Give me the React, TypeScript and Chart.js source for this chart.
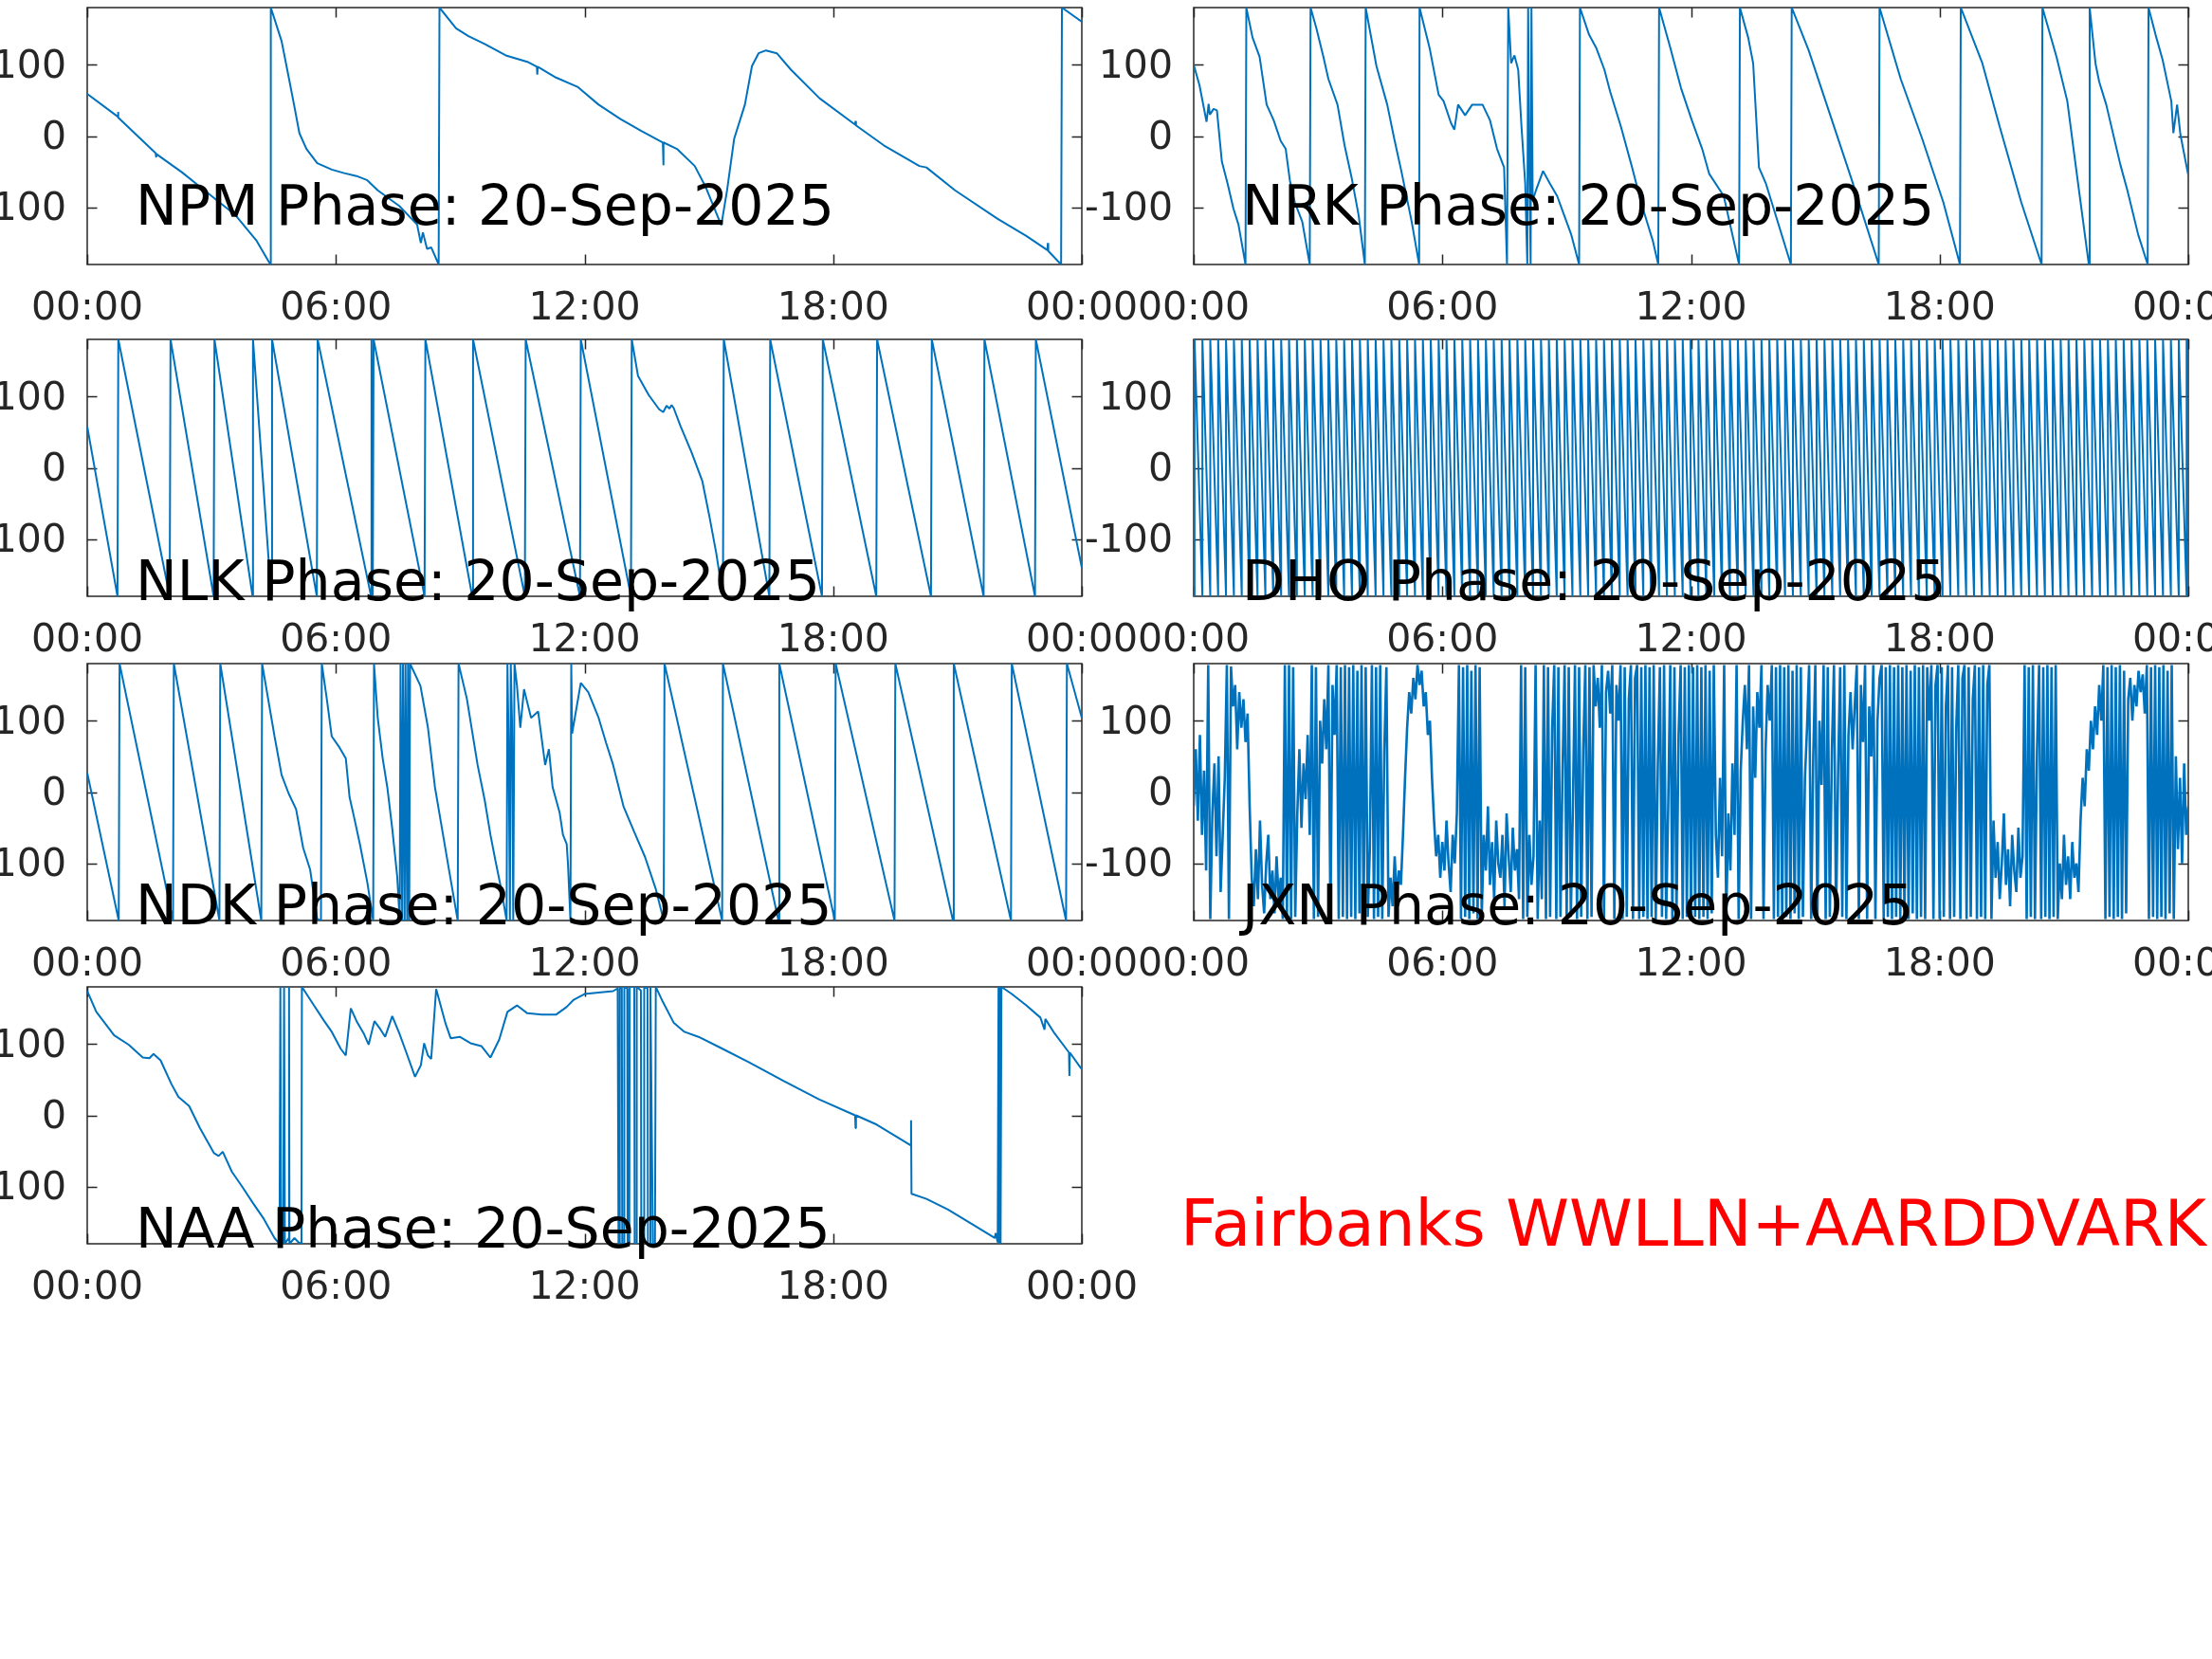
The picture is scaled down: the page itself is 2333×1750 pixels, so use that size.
import React, { useEffect, useRef } from "react";
import { Chart, registerables } from "chart.js";

Chart.register(...registerables);

// ---------- tick definitions ----------
const X_TICKS = [0, 6, 12, 18, 24];
const X_TICK_LABELS = ["00:00", "06:00", "12:00", "18:00", "00:00"];
const Y_TICKS = [-100, 0, 100];
const Y_TICK_LABELS = ["-100", "0", "100"];

// ---------- data: [hour, phase(deg)] ----------
const NPM: number[][] = [
  [0, 59], [0.74, 27], [0.745, 34], [0.75, 26], [1.65, -24], [1.66, -30], [1.67, -25], [2.29, -51], [2.72, -71],
  [3.58, -111], [4.09, -147], [4.42, -180], [4.43, 180], [4.69, 133], [4.87, 80], [4.99, 44], [5.12, 4],
  [5.29, -18], [5.55, -38], [5.9, -47], [6.2, -52], [6.5, -56], [6.76, -62], [7.01, -76], [7.53, -98], [7.96, -124],
  [8.05, -150], [8.1, -135], [8.2, -158], [8.3, -156], [8.48, -180], [8.5, 180], [8.9, 151], [9.2, 140],
  [9.59, 129], [10.1, 113], [10.62, 104], [10.85, 97], [10.86, 86], [10.87, 97], [11.31, 82], [11.83, 69],
  [12.34, 44], [12.86, 24], [13.37, 7], [13.89, -9], [13.9, -41], [13.91, -9], [14.23, -18], [14.66, -42],
  [14.92, -71], [15.3, -125], [15.44, -76], [15.61, -4], [15.87, 44], [16.04, 98], [16.2, 116], [16.38, 120],
  [16.64, 116], [16.98, 93], [17.67, 53], [18.53, 16], [18.54, 21], [18.55, 15], [19.22, -13], [20.08, -42],
  [20.25, -44], [20.94, -76], [21.97, -116], [22.66, -140], [23.17, -160], [23.18, -150], [23.19, -161],
  [23.5, -180], [23.52, 180], [24, 160],
];

const NRK: number[][] = [
  [0, 100], [0.14, 71], [0.31, 20], [0.36, 45], [0.39, 30], [0.48, 38], [0.56, 36], [0.68, -36], [0.82, -67],
  [0.96, -102], [1.08, -124], [1.25, -180], [1.27, 180], [1.42, 138], [1.59, 111], [1.76, 44], [1.93, 22],
  [2.1, -7], [2.22, -18], [2.32, -62], [2.44, -93], [2.62, -120], [2.8, -180], [2.82, 180], [2.96, 151],
  [3.13, 111], [3.25, 80], [3.47, 44], [3.64, -13], [3.81, -58], [3.98, -111], [4.13, -180], [4.15, 180],
  [4.41, 98], [4.67, 44], [4.84, -4], [5.01, -49], [5.26, -120], [5.44, -180], [5.45, 180], [5.69, 124],
  [5.91, 58], [6.03, 49], [6.21, 18], [6.29, 9], [6.38, 44], [6.55, 29], [6.72, 44], [6.97, 44], [7.15, 22],
  [7.32, -18], [7.49, -44], [7.56, -180], [7.59, 180], [7.66, 102], [7.74, 113], [7.83, 93], [7.91, 13],
  [8.0, -67], [8.05, -180], [8.07, 180], [8.1, -40], [8.13, -180], [8.15, 180], [8.18, -90], [8.26, -76],
  [8.43, -49], [8.6, -67], [8.77, -84], [8.94, -111], [9.11, -138], [9.3, -180], [9.32, 180], [9.54, 142],
  [9.71, 124], [9.91, 93], [10.05, 62], [10.31, 13], [10.56, -40], [10.82, -98], [11.08, -147], [11.21, -180],
  [11.23, 180], [11.5, 124], [11.76, 67], [12.02, 22], [12.27, -18], [12.44, -53], [12.79, -84], [13.16, -180],
  [13.18, 180], [13.38, 138], [13.5, 102], [13.64, -44], [13.81, -67], [14.07, -116], [14.41, -180],
  [14.43, 180], [14.84, 120], [15.35, 31], [15.86, -58], [16.53, -180], [16.55, 180], [17.06, 80],
  [17.58, -4], [18.09, -93], [18.49, -180], [18.51, 180], [19.03, 102], [19.45, 13], [19.97, -93],
  [20.46, -180], [20.48, 180], [20.82, 111], [21.08, 49], [21.33, -62], [21.6, -180], [21.62, 180],
  [21.76, 102], [21.85, 76], [22.02, 44], [22.36, -40], [22.53, -76], [22.79, -138], [23.02, -180],
  [23.04, 180], [23.21, 142], [23.38, 107], [23.59, 49], [23.64, 4], [23.73, 44], [23.81, 2], [24, -55],
];

const NLK: number[][] = [
  [0, 58], [0.73, -180], [0.75, 180], [1.99, -180], [2.01, 180], [3.05, -180], [3.07, 180], [3.99, -180],
  [4.0, 180], [4.44, -180], [4.46, 180], [5.54, -180], [5.56, 180], [6.85, -180], [6.86, 180], [6.89, -180],
  [6.91, 180], [8.14, -180], [8.16, 180], [9.29, -180], [9.31, 180], [10.56, -180], [10.58, 180],
  [11.89, -180], [11.91, 180], [13.12, -180], [13.14, 180], [13.29, 129], [13.55, 102], [13.8, 82],
  [13.9, 78], [13.98, 87], [14.05, 83], [14.1, 88], [14.15, 84], [14.32, 58], [14.58, 22], [14.84, -18],
  [15.01, -67], [15.18, -120], [15.34, -180], [15.36, 180], [16.46, -180], [16.48, 180], [17.73, -180],
  [17.75, 180], [19.04, -180], [19.06, 180], [20.36, -180], [20.38, 180], [21.63, -180], [21.65, 180],
  [22.87, -180], [22.89, 180], [24, -140],
];

// DHO: times (hours) at which the fast phase wraps from -180 back to +180
const DHO_WRAPS = [
  0.02, 0.21, 0.40, 0.59, 0.78, 0.97, 1.16, 1.35, 1.54, 1.73, 1.92, 2.11, 2.30, 2.49, 2.68, 2.87, 3.06,
  3.25, 3.44, 3.63, 3.82, 4.01, 4.20, 4.39, 4.58, 4.77, 4.96, 5.15, 5.34, 5.53, 5.72, 5.91, 6.10, 6.29,
  6.48, 6.67, 6.86, 7.05, 7.24, 7.43, 7.62, 7.81, 8.00, 8.19, 8.38, 8.57, 8.76, 8.95, 9.14, 9.33, 9.52,
  9.71, 9.90, 10.09, 10.28, 10.47, 10.66, 10.85, 11.04, 11.23, 11.42, 11.61, 11.80, 11.99, 12.18, 12.37,
  12.56, 12.75, 12.94, 13.13, 13.32, 13.51, 13.70, 13.89, 14.08, 14.27, 14.46, 14.65, 14.84, 15.03, 15.22,
  15.41, 15.60, 15.79, 15.98, 16.17, 16.36, 16.55, 16.74, 16.93, 17.12, 17.31, 17.50, 17.69, 17.88, 18.07,
  18.26, 18.45, 18.64, 18.83, 19.02, 19.21, 19.40, 19.59, 19.78, 19.97, 20.16, 20.35, 20.54, 20.73, 20.92,
  21.11, 21.30, 21.49, 21.68, 21.87, 22.06, 22.25, 22.44, 22.63, 22.82, 23.01, 23.20, 23.39, 23.58, 23.77,
  23.96,
];
const DHO_START = -142;
const DHO_END = 104;

const NDK: number[][] = [
  [0, 27], [0.76, -180], [0.78, 180], [2.07, -180], [2.09, 180], [3.19, -180], [3.21, 180], [4.2, -180],
  [4.22, 180], [4.52, 78], [4.69, 24], [4.86, -2], [5.04, -24], [5.21, -78], [5.38, -109], [5.55, -178],
  [5.64, -180], [5.66, 180], [5.78, 131], [5.9, 78], [6.07, 64], [6.24, 47], [6.33, -7], [6.45, -38],
  [6.58, -73], [6.76, -127], [6.9, -180], [6.92, 180], [7.01, 104], [7.13, 47], [7.24, 7], [7.36, -51],
  [7.48, -118], [7.54, -180], [7.56, 180], [7.6, -180], [7.62, 180], [7.66, -180], [7.68, 180], [7.72, -180],
  [7.74, 180], [7.77, -180], [7.79, 180], [8.04, 149], [8.22, 91], [8.39, 7], [8.56, -51], [8.73, -109],
  [8.94, -180], [8.96, 180], [9.16, 131], [9.42, 38], [9.59, -11], [9.73, -60], [9.85, -96], [9.99, -136],
  [10.12, -180], [10.14, 180], [10.17, 60], [10.2, -180], [10.22, 180], [10.25, 100], [10.28, -180],
  [10.31, 180], [10.37, 149], [10.45, 90], [10.54, 144], [10.71, 104], [10.88, 113], [11.05, 38],
  [11.14, 60], [11.23, 7], [11.4, -29], [11.48, -60], [11.57, -73], [11.6, -100], [11.66, -180],
  [11.68, 180], [11.7, 82], [11.91, 153], [12.09, 140], [12.34, 104], [12.52, 69], [12.69, 38], [12.94, -20],
  [13.2, -56], [13.46, -91], [13.72, -136], [13.91, -180], [13.93, 180], [15.32, -180], [15.34, 180],
  [16.68, -180], [16.7, 180], [18.04, -180], [18.06, 180], [19.48, -180], [19.5, 180], [20.89, -180],
  [20.91, 180], [22.29, -180], [22.31, 180], [23.62, -180], [23.64, 180], [24, 104],
];

// JXN: phase sampled evenly through the day (noisy, many wraps), one row per hour
const JXN_P = [
  -20, 60, -40, 80, -60, 30, -110, 178, -178, -30, 40, -90, 50, -140, -60, 20, 178, -178, 176, 120,
  150, 60, 140, 90, 130, 70, 110, -20, -120, -160, -80, -150, -40, -130, -170, -100, -60, -150, -110, -170,
  -90, -150, -120, -178, 178, -178, 178, -178, 175, -175, -30, 60, -50, 40, -10, 80, -60, 178, -178, 175,
  -175, 100, 40, 130, 60, 178, -178, 150, 80, 178, -178, 175, -175, 178, -178, 175, -175, 178, -178, 170,
  -170, 178, -178, 175, -175, -80, 178, -178, 175, -175, 178, -178, 60, 175, -175, -120, -160, -90, -150, -110,
  -130, -60, 20, 90, 140, 110, 160, 130, 178, 150, 170, 120, 140, 80, 100, 20, -40, -90, -60, -120,
  -70, -110, -40, -100, -140, -60, -100, -30, 178, -178, 175, -175, 178, -178, 170, -170, 178, -178, 175, -175,
  -60, -110, -20, -130, -70, -150, -40, -100, -120, -60, -160, -30, -90, -140, -50, -110, -80, -150, 178, -178,
  175, -175, -60, -130, -90, 178, -178, -40, -150, 178, -178, 175, -175, 90, 178, -178, 175, -175, 30, 178,
  -178, 175, -175, -20, 178, -178, 175, -175, 60, 178, -178, 175, -175, 178, 120, 160, 90, 178, -178, 140,
  170, 110, 178, -178, 150, 100, 178, -178, 175, -175, 130, 178, -178, 160, 178, -178, 175, -175, 178, -178,
  175, -175, 178, -178, 40, 175, -175, 178, -178, -20, 178, -178, 175, -175, 80, 178, -178, 175, -175, 178,
  -178, 175, -175, 178, -178, 175, -175, 178, -178, 170, -170, 178, -60, -120, 20, -90, 178, -178, -30, -110,
  40, -60, 178, -178, 30, 100, 150, 60, 178, -178, 120, 20, 140, 90, 178, -178, 60, 150, 100, 178,
  -178, 175, -175, 178, -178, 175, -175, 178, -178, 170, -170, 178, -178, 175, -175, 20, 90, 178, -178, 50,
  178, -178, 100, 10, 178, -178, 175, -175, 60, 178, -178, 30, 175, -175, 178, -178, 80, 140, 60, 120,
  178, -178, 150, 70, 178, -178, 120, 50, 178, -178, 100, 160, 178, -178, 175, -175, 178, -178, 175, -175,
  178, -178, 175, -175, 178, -178, 170, -170, 178, -178, 175, -175, 178, -178, 175, 100, 178, -178, 150, 178,
  -178, 175, -175, 120, 178, -178, 175, -175, 90, 178, -178, 160, 178, -178, 175, -175, 130, 178, -178, 175,
  -175, 178, -178, 150, 178, -178, -40, -120, -70, -150, -100, -30, -130, -80, -160, -60, -110, -140, -50, -120,
  -90, 178, -178, 175, -175, 178, -178, 60, 178, -178, 175, -175, 178, -178, 175, -175, 178, -178, -100, -150,
  -60, -130, -90, -150, -70, -120, -100, -140, -40, 20, -20, 60, 30, 100, 60, 120, 80, 150, 100, 178,
  -178, 175, -175, 178, -178, 175, -175, 178, -178, 170, -170, 130, 160, 100, 150, 120, 170, 140, 165, 110,
  178, -178, 175, -175, 178, -178, 175, -175, 178, -178, 170, -170, 178, -178, 50, -80, 20, -100, 40, -60, -20,
];

const NAA: number[][] = [
  [0, 174], [0.22, 145], [0.65, 112], [1.0, 99], [1.34, 81], [1.5, 80], [1.6, 86], [1.77, 77], [2.03, 44],
  [2.2, 26], [2.46, 13], [2.72, -18], [3.06, -53], [3.17, -57], [3.27, -51], [3.49, -79], [3.75, -101],
  [4.0, -123], [4.26, -145], [4.52, -172], [4.64, -180], [4.66, 180], [4.68, -180], [4.73, -178],
  [4.75, 180], [4.77, -180], [4.86, -172], [4.87, 180], [4.88, -180], [5.0, -172], [5.1, -178], [5.17, -180],
  [5.18, 180], [5.47, 154], [5.72, 132], [5.9, 117], [6.12, 93], [6.24, 84], [6.36, 150], [6.5, 132],
  [6.67, 115], [6.79, 99], [6.93, 132], [7.07, 121], [7.19, 110], [7.36, 139], [7.53, 115], [7.7, 88],
  [7.91, 54], [8.05, 70], [8.13, 101], [8.22, 84], [8.3, 79], [8.42, 177], [8.65, 128], [8.77, 108],
  [8.99, 110], [9.25, 101], [9.51, 97], [9.73, 81], [9.94, 106], [10.14, 145], [10.37, 154], [10.62, 143],
  [10.97, 141], [11.31, 141], [11.57, 152], [11.74, 162], [12.0, 170], [12.34, 172], [12.69, 174],
  [12.8, 178], [12.82, -180], [12.84, -180], [12.85, 180], [12.9, 178], [12.91, -180], [12.95, -180],
  [12.96, 180], [13.03, 178], [13.04, -180], [13.08, -178], [13.09, 180], [13.2, 180], [13.21, -180],
  [13.25, -180], [13.26, 180], [13.36, 175], [13.37, -180], [13.43, -180], [13.44, 180], [13.52, 178],
  [13.53, -180], [13.58, -180], [13.59, 180], [13.65, -180], [13.7, -180], [13.72, 180], [13.89, 159],
  [14.15, 130], [14.41, 117], [14.75, 110], [15.27, 95], [15.95, 75], [16.81, 48], [17.67, 22], [18.53, 0],
  [18.54, -18], [18.55, 0], [19.05, -13], [19.56, -31], [19.87, -42], [19.88, -7], [19.89, -110],
  [20.25, -117], [20.77, -132], [21.45, -156], [21.9, -172], [21.92, -165], [21.97, -178], [21.99, 180],
  [22.0, -180], [22.02, 180], [22.04, -180], [22.06, 180], [22.31, 170], [22.66, 154], [23.0, 137],
  [23.1, 120], [23.12, 135], [23.34, 115], [23.69, 88], [23.7, 55], [23.71, 88], [23.98, 66], [24, 65],
];

// ---------- styling / layout ----------
const LINE_COLOR = "#0072BD";
const AXIS_COLOR = "#262626";
const FONT = "'DejaVu Sans', sans-serif";
const COL_LEFTS = [92, 1259];
const COL_EXTRA = [0, 44];
const ROW_TOPS = [8, 358, 700, 1041];
const AXIS_W = 1049;
const AXIS_H = 271;
const Y_AXIS_W = 92;
const PAD_TOP = 10;
const CANVAS_W = 1211;
const CANVAS_H = 356;
const TITLE_BASE = [229, 275, 275, 275];

type Pt = { x: number; y: number };

function pairsToPoints(arr: number[][]): Pt[] {
  return arr.map(([x, y]) => ({ x, y }));
}

function dhoPoints(): Pt[] {
  const pts: Pt[] = [{ x: 0, y: DHO_START }];
  DHO_WRAPS.forEach((w) => {
    pts.push({ x: w, y: -180 });
    pts.push({ x: w, y: 180 });
  });
  pts.push({ x: 24, y: DHO_END });
  return pts;
}

function jxnPoints(): Pt[] {
  const n = JXN_P.length;
  return JXN_P.map((v, i) => ({ x: (i * 24) / (n - 1), y: v }));
}

const PANELS = [
  { title: "NPM Phase: 20-Sep-2025", pts: () => pairsToPoints(NPM), col: 0, row: 0, lw: 2 },
  { title: "NRK Phase: 20-Sep-2025", pts: () => pairsToPoints(NRK), col: 1, row: 0, lw: 2 },
  { title: "NLK Phase: 20-Sep-2025", pts: () => pairsToPoints(NLK), col: 0, row: 1, lw: 2 },
  { title: "DHO Phase: 20-Sep-2025", pts: dhoPoints, col: 1, row: 1, lw: 2 },
  { title: "NDK Phase: 20-Sep-2025", pts: () => pairsToPoints(NDK), col: 0, row: 2, lw: 2 },
  { title: "JXN Phase: 20-Sep-2025", pts: jxnPoints, col: 1, row: 2, lw: 2.6 },
  { title: "NAA Phase: 20-Sep-2025", pts: () => pairsToPoints(NAA), col: 0, row: 3, lw: 2 },
];

const boxPlugin = {
  id: "matlabBox",
  beforeDatasetsDraw(chart: any) {
    const { ctx, chartArea: a, scales } = chart;
    const tl = 10.5;
    ctx.save();
    ctx.strokeStyle = AXIS_COLOR;
    ctx.lineWidth = 1.5;
    ctx.beginPath();
    scales.x.ticks.forEach((t: any) => {
      const px = Math.round(scales.x.getPixelForValue(t.value)) + 0.5;
      ctx.moveTo(px, a.bottom);
      ctx.lineTo(px, a.bottom - tl);
      ctx.moveTo(px, a.top);
      ctx.lineTo(px, a.top + tl);
    });
    scales.y.ticks.forEach((t: any) => {
      const py = Math.round(scales.y.getPixelForValue(t.value)) + 0.5;
      ctx.moveTo(a.left, py);
      ctx.lineTo(a.left + tl, py);
      ctx.moveTo(a.right, py);
      ctx.lineTo(a.right - tl, py);
    });
    ctx.stroke();
    ctx.strokeRect(a.left, a.top, a.right - a.left, a.bottom - a.top);
    ctx.restore();
  },
};

function PhasePanel({ pts, left, top, lw, extra }: { pts: Pt[]; left: number; top: number; lw: number; extra: number }) {
  const ref = useRef<HTMLCanvasElement | null>(null);
  const cw = CANVAS_W + extra;
  useEffect(() => {
    if (!ref.current) return;
    const chart = new Chart(ref.current, {
      type: "line",
      data: {
        datasets: [
          {
            data: pts,
            borderColor: LINE_COLOR,
            borderWidth: lw,
            pointRadius: 0,
            fill: false,
            tension: 0,
            borderJoinStyle: "bevel",
          } as any,
        ],
      },
      options: {
        animation: false,
        responsive: false,
        maintainAspectRatio: false,
        devicePixelRatio: 1,
        events: [],
        layout: { padding: { left: 0, top: PAD_TOP, right: CANVAS_W - Y_AXIS_W - AXIS_W, bottom: 0 } },
        plugins: { legend: { display: false }, tooltip: { enabled: false }, title: { display: false } },
        scales: {
          x: {
            type: "linear",
            min: 0,
            max: 24,
            afterBuildTicks: (s: any) => {
              s.ticks = X_TICKS.map((v) => ({ value: v }));
            },
            afterFit: (s: any) => {
              s.height = CANVAS_H - PAD_TOP - AXIS_H;
              s.paddingLeft = 0;
              s.paddingRight = 0;
            },
            ticks: {
              callback: (_v: any, i: number) => X_TICK_LABELS[i],
              font: { family: FONT, size: 41 },
              color: AXIS_COLOR,
              padding: 23,
              maxRotation: 0,
              minRotation: 0,
              autoSkip: false,
            },
            grid: { display: false, drawTicks: false },
            border: { display: false },
          },
          y: {
            type: "linear",
            min: -180,
            max: 180,
            afterBuildTicks: (s: any) => {
              s.ticks = Y_TICKS.map((v) => ({ value: v }));
            },
            afterFit: (s: any) => {
              s.width = Y_AXIS_W + extra;
              s.paddingTop = 0;
              s.paddingBottom = 0;
            },
            ticks: {
              callback: (_v: any, i: number) => Y_TICK_LABELS[i],
              font: { family: FONT, size: 41 },
              color: AXIS_COLOR,
              padding: 22,
              labelOffset: 3,
              autoSkip: false,
            },
            grid: { display: false, drawTicks: false },
            border: { display: false },
          },
        },
      } as any,
      plugins: [boxPlugin],
    });
    return () => chart.destroy();
  }, []);
  return (
    <canvas
      ref={ref}
      width={cw}
      height={CANVAS_H}
      style={{
        position: "absolute",
        left: left - Y_AXIS_W - extra,
        top: top - PAD_TOP,
        width: cw,
        height: CANVAS_H,
      }}
    />
  );
}

const TITLE_SIZE = 58.5;
const NOTE_SIZE = 67.5;

export default function App() {
  return (
    <div
      style={{
        position: "fixed",
        left: 0,
        top: 0,
        width: 2333,
        height: 1750,
        overflow: "hidden",
        background: "#ffffff",
      }}
    >
      {PANELS.map((p, i) => (
        <PhasePanel
          key={i}
          pts={p.pts()}
          left={COL_LEFTS[p.col]}
          top={ROW_TOPS[p.row]}
          lw={p.lw}
          extra={COL_EXTRA[p.col]}
        />
      ))}
      {PANELS.map((p, i) => (
        <div
          key={"t" + i}
          style={{
            position: "absolute",
            left: COL_LEFTS[p.col] + 51,
            top: ROW_TOPS[p.row] + TITLE_BASE[p.row] - Math.round(0.846 * TITLE_SIZE),
            fontFamily: FONT,
            fontSize: TITLE_SIZE,
            lineHeight: 1,
            color: "#000000",
            whiteSpace: "nowrap",
          }}
        >
          {p.title}
        </div>
      ))}
      <div
        style={{
          position: "absolute",
          left: 1245,
          top: 1314 - Math.round(0.846 * NOTE_SIZE),
          fontFamily: FONT,
          fontSize: NOTE_SIZE,
          lineHeight: 1,
          color: "#ff0000",
          whiteSpace: "nowrap",
        }}
      >
        Fairbanks WWLLN+AARDDVARK
      </div>
    </div>
  );
}
